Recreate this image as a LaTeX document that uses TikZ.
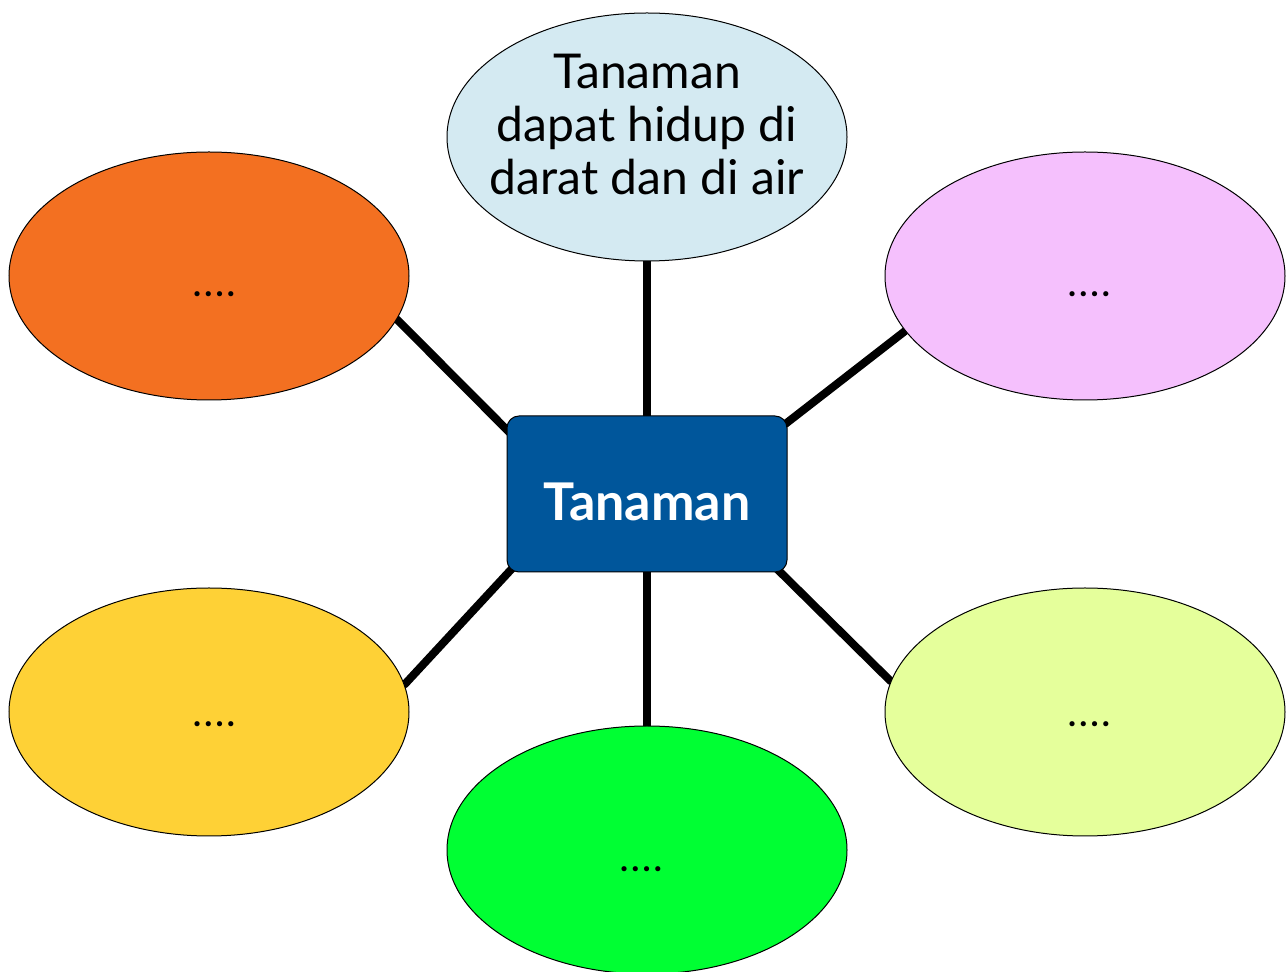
\documentclass[tikz,border=0pt]{standalone}
\usepackage{fontspec}
\setmainfont{Lato}
\usetikzlibrary{shapes.geometric,backgrounds,calc}
\definecolor{cTop}{HTML}{D4EAF2}
\definecolor{cOrange}{HTML}{F37021}
\definecolor{cPink}{HTML}{F5C0FD}
\definecolor{cYellow}{HTML}{FED136}
\definecolor{cLime}{HTML}{E5FF9B}
\definecolor{cGreen}{HTML}{00FF33}
\definecolor{cBlue}{HTML}{00569B}
\newcommand{\fourdots}{.\kern1.6pt.\kern1.6pt.\kern1.6pt.}
\tikzset{
  bubble/.style={ellipse, draw=black, line width=0.5pt, minimum width=200pt, minimum height=124pt, inner sep=0pt},
  dots/.style={font=\fontsize{17}{17}\selectfont\bfseries, inner sep=0pt},
  link/.style={line width=4pt, black, line cap=round},
  hub/.style={rectangle, rounded corners=6pt, draw=black, line width=0.5pt, fill=cBlue, minimum width=140pt, minimum height=78pt, inner sep=0pt},
  hubtext/.style={text=white, font=\fontsize{26}{30}\selectfont\bfseries, inner sep=0pt}
}
\begin{document}
\begin{tikzpicture}[x=0.5pt,y=-0.5pt]
\useasboundingbox (0,0) rectangle (1287,972);
\node[hub] (box) at (647,494) {};
\node[hubtext] (boxtext) at (647,502) {Tanaman};
\node[bubble, fill=cTop] (top) at (647,137) {};
\node[align=center, inner sep=0pt, font=\fontsize{24}{26.5}\selectfont] (toptext) at (647,125) {Tanaman\\dapat hidup di\\darat dan di air};
\node[bubble, fill=cOrange] (orange) at (209,276) {};
\node[bubble, fill=cPink] (pink) at (1085,276) {};
\node[bubble, fill=cYellow] (yellow) at (209,712) {};
\node[bubble, fill=cLime] (lime) at (1085,712) {};
\node[bubble, fill=cGreen] (green) at (647,850) {};
\node[dots] (d1) at (214,294) {\fourdots};
\node[dots] (d2) at (1089,294) {\fourdots};
\node[dots] (d3) at (214,724) {\fourdots};
\node[dots] (d4) at (1089,724) {\fourdots};
\node[dots] (d5) at (641,869) {\fourdots};
\begin{scope}[on background layer]
\draw[link] (box.north) -- (top.south);
\draw[link] (box.south) -- (green.north);
\draw[link] ($(box.north west)+(5pt,-12pt)$) -- (orange.-13);
\draw[link] ($(box.north east)+(-4pt,-6.5pt)$) -- (pink.197.4);
\draw[link] ($(box.south west)+(6.5pt,6pt)$) -- (yellow.8.2);
\draw[link] ($(box.south east)+(-8pt,4.5pt)$) -- (lime.171.5);
\end{scope}
\end{tikzpicture}
\end{document}
